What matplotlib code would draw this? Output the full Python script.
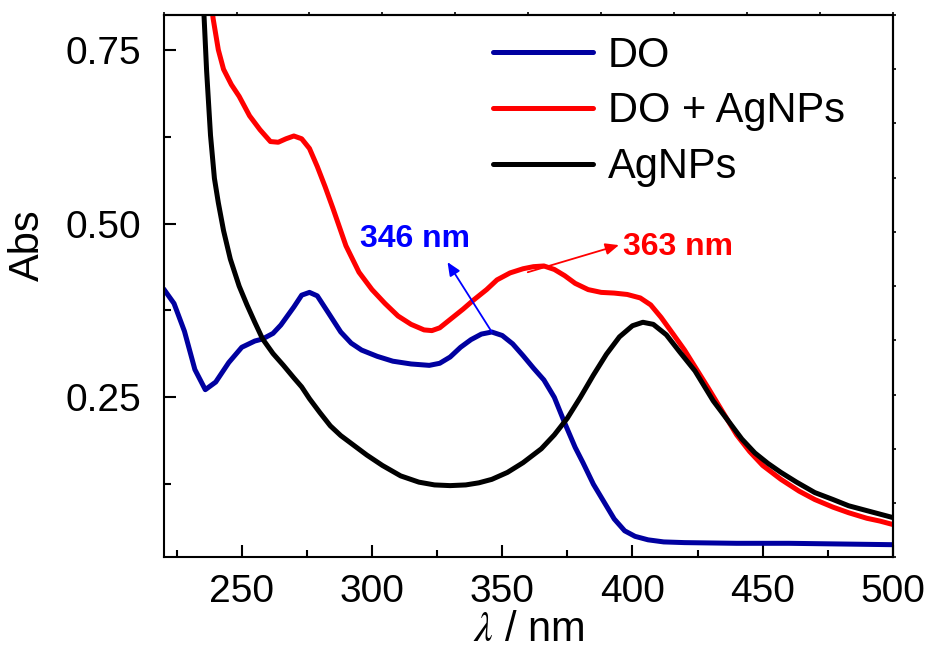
import matplotlib
matplotlib.use("Agg")
import matplotlib.pyplot as plt
from matplotlib.ticker import MultipleLocator, FixedLocator, NullFormatter
import numpy as np

# ---- data ----
wl_do = [220, 224, 228, 232, 236, 240, 245, 250, 255, 258, 262, 265, 270, 273, 276, 279,
         283, 288, 292, 296, 302, 308, 315, 322, 326, 330, 334, 338, 342, 346, 350, 354,
         358, 362, 366, 370, 374, 378, 381, 385, 389, 393, 397, 401, 406, 412, 420, 440,
         460, 480, 500]
abs_do = [0.406, 0.385, 0.345, 0.290, 0.261, 0.272, 0.300, 0.322, 0.331, 0.334, 0.342, 0.354,
          0.380, 0.397, 0.401, 0.396, 0.373, 0.344, 0.328, 0.318, 0.309, 0.302, 0.298, 0.296,
          0.299, 0.308, 0.322, 0.333, 0.341, 0.344, 0.339, 0.327, 0.310, 0.292, 0.275, 0.250,
          0.213, 0.178, 0.156, 0.125, 0.100, 0.075, 0.058, 0.050, 0.045, 0.042, 0.041, 0.040,
          0.040, 0.039, 0.038]

wl_mix = [237, 239, 241, 243, 246, 249, 253, 257, 261, 264, 267, 270, 273, 276, 279, 282,
          285, 290, 295, 300, 305, 310, 315, 320, 323, 326, 330, 335, 339, 344, 348, 353,
          358, 362, 366, 370, 374, 378, 383, 388, 393, 398, 403, 407, 411, 416, 420, 424,
          429, 434, 440, 445, 450, 457, 464, 470, 477, 483, 490, 495, 500]
abs_mix = [0.86, 0.795, 0.750, 0.722, 0.700, 0.683, 0.655, 0.635, 0.618, 0.617, 0.622, 0.626,
           0.622, 0.608, 0.582, 0.553, 0.522, 0.468, 0.430, 0.405, 0.385, 0.367, 0.355, 0.347,
           0.346, 0.350, 0.362, 0.377, 0.390, 0.405, 0.419, 0.429, 0.435, 0.438, 0.439, 0.434,
           0.425, 0.414, 0.405, 0.401, 0.400, 0.398, 0.393, 0.383, 0.365, 0.339, 0.318, 0.294,
           0.264, 0.233, 0.196, 0.172, 0.152, 0.132, 0.115, 0.103, 0.092, 0.084, 0.076, 0.072,
           0.067]

wl_ag = [234, 235.5, 236.5, 238, 239.5, 241, 243, 245.6, 249, 252, 255, 258, 262, 266, 270,
         273, 276, 280, 284, 288, 293, 298, 304, 311, 318, 324, 330, 336, 341, 346, 352, 358,
         365, 370, 375, 380, 385, 390, 395, 400, 404, 408, 413, 418, 424, 431, 436, 442, 447,
         452, 457, 463, 470, 477, 483, 490, 495, 500]
abs_ag = [0.86, 0.80, 0.72, 0.627, 0.565, 0.530, 0.490, 0.449, 0.410, 0.383, 0.358, 0.334,
          0.313, 0.296, 0.278, 0.265, 0.248, 0.228, 0.209, 0.195, 0.181, 0.167, 0.152, 0.137,
          0.128, 0.124, 0.123, 0.124, 0.127, 0.132, 0.142, 0.156, 0.176, 0.196, 0.220, 0.250,
          0.282, 0.312, 0.337, 0.353, 0.358, 0.355, 0.340, 0.316, 0.288, 0.245, 0.220, 0.190,
          0.170, 0.155, 0.142, 0.128, 0.113, 0.103, 0.094, 0.087, 0.082, 0.077]

labels = ["DO", "DO + AgNPs", "AgNPs"]
xticks = [250, 300, 350, 400, 450, 500]
yticks = [0.25, 0.50, 0.75]
peak_do = (346, 0.344)
peak_mix = (363, 0.438)

# ---- style ----
plt.rcParams['font.family'] = ['Liberation Sans', 'DejaVu Sans']
plt.rcParams['mathtext.fontset'] = 'stix'

fig = plt.figure(figsize=(9.35, 6.54), dpi=100)
ax = fig.add_axes([0.175, 0.148, 0.780, 0.829])

lw = 3.6
kw = dict(lw=lw, solid_capstyle='round', solid_joinstyle='round')
ax.plot(wl_do, abs_do, color='#0000A0', label=labels[0], **kw)
ax.plot(wl_mix, abs_mix, color='#FF0000', label=labels[1], **kw)
ax.plot(wl_ag, abs_ag, color='black', label=labels[2], **kw)

ax.set_xlim(220, 500)
ax.set_ylim(0.02, 0.80)
ax.set_xticks(xticks)
ax.set_yticks(yticks)
ax.set_yticklabels([f"{v:.2f}" for v in yticks])
ax.xaxis.set_minor_locator(MultipleLocator(25))
ax.yaxis.set_minor_locator(MultipleLocator(0.125))

for s in ax.spines.values():
    s.set_linewidth(1.5)

ax.tick_params(which='both', direction='in', top=False, right=False, width=1.5)
ax.tick_params(which='major', length=8.5)
ax.tick_params(which='minor', length=5)
ax.tick_params(axis='x', labelsize=28, pad=12)
ax.tick_params(axis='y', labelsize=28, pad=16)

# small outward ticks on top and right
secx = ax.secondary_xaxis('top')
secx.xaxis.set_major_locator(FixedLocator(np.linspace(220, 500, 11)))
secx.xaxis.set_major_formatter(NullFormatter())
secx.tick_params(direction='out', length=2, width=1.2)
secx.spines['top'].set_linewidth(1.5)
secy = ax.secondary_yaxis('right')
secy.yaxis.set_major_locator(FixedLocator(np.linspace(0.02, 0.80, 11)))
secy.yaxis.set_major_formatter(NullFormatter())
secy.tick_params(direction='out', length=2, width=1.2)
secy.spines['right'].set_linewidth(1.5)

ax.set_xlabel(r'$\lambda$ / nm', fontsize=30, labelpad=0)
ax.set_ylabel('Abs', fontsize=30)
ax.yaxis.set_label_coords(-0.158, 0.576)

leg = ax.legend(loc='upper left', bbox_to_anchor=(0.452, 0.962), frameon=False,
                fontsize=30, handlelength=2.4, handletextpad=0.35, labelspacing=0.38,
                borderpad=0, borderaxespad=0)

# annotations
ax.annotate('', xy=(329, 0.4445), xytext=peak_do,
            arrowprops=dict(arrowstyle='-|>,head_length=0.8,head_width=0.35', color='#0000FF', lw=1.3,
                            shrinkA=0, shrinkB=0))
ax.text(316.7, 0.478, '346 nm', color='#0000FF', fontsize=23, fontweight='bold',
        ha='center', va='center')
ax.annotate('', xy=(394.8, 0.469), xytext=(359.8, 0.430),
            arrowprops=dict(arrowstyle='-|>,head_length=0.8,head_width=0.35', color='#FF0000', lw=1.3,
                            shrinkA=0, shrinkB=0))
ax.text(396.3, 0.466, '363 nm', color='#FF0000', fontsize=23, fontweight='bold',
        ha='left', va='center')

fig.savefig('out.png', dpi=100)
